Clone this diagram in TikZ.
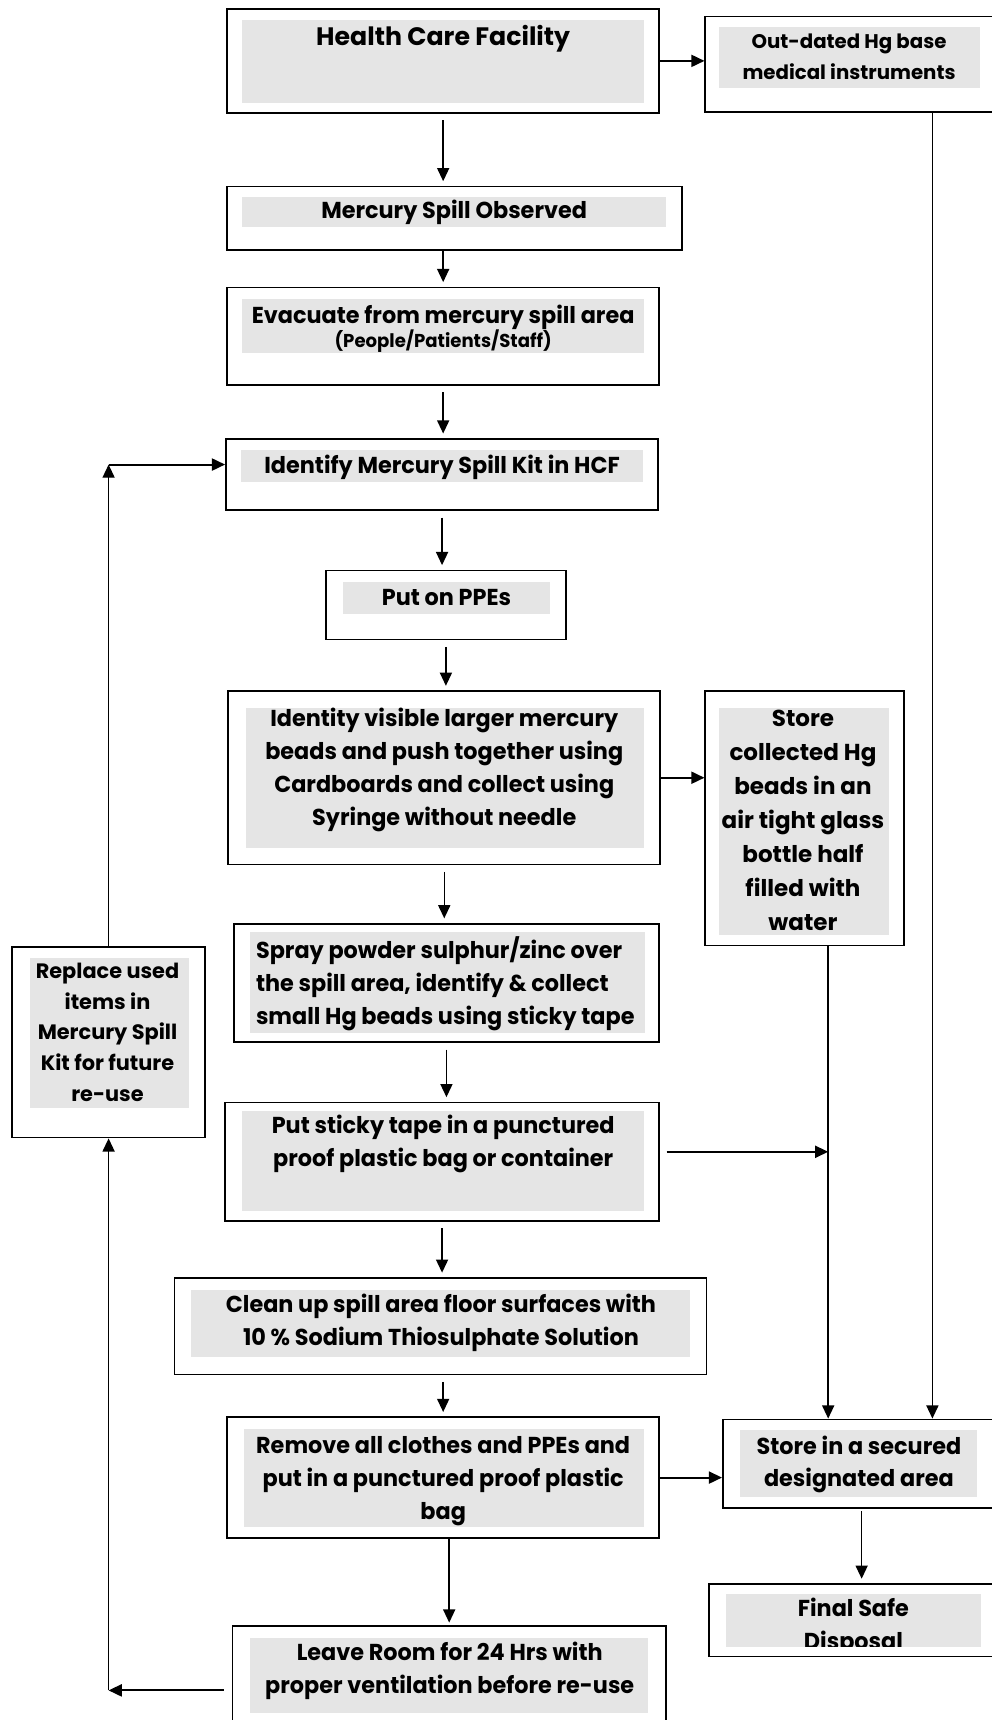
\documentclass[tikz,border=0pt]{standalone}
\usepackage{fontspec}
\setmainfont{Poppins}
\newfontfamily\condfont{Poppins}[FakeStretch=0.97]
\usetikzlibrary{arrows.meta, fit}

\begin{document}
\begin{tikzpicture}[
    x=0.5pt, y=-0.5pt,
    box/.style={draw, line width=0.8pt, inner sep=0pt},
    graybg/.style={fill=gray!20},
    txt/.style={font=\condfont\bfseries\fontsize{10.5}{15}\selectfont, align=center, inner sep=0pt},
    sidetxt/.style={font=\bfseries\fontsize{9.5}{14}\selectfont, align=center, inner sep=0pt},
    flow/.style={-{Triangle[length=6pt,width=5.5pt]}, line width=0.65pt, shorten <=3pt, shorten >=2pt},
    arrow/.style={-{Triangle[length=6pt,width=5.5pt]}, line width=0.9pt}
]
\useasboundingbox (0,0) rectangle (904,1568);

% Health Care Facility
\fill[graybg] (221,18) rectangle (587,94);
\node[box, fit={(207,8) (601,103)}] (hcf) {};
\node[txt, font=\bfseries\fontsize{11.5}{15}\selectfont] (hcftxt) at (404,35) {Health Care Facility};

% Out-dated instruments
\fill[graybg] (655,25) rectangle (893,80);
\node[box, fit={(643,15) (912,102)}] (outdated) {};
\node[sidetxt, font=\bfseries\fontsize{9}{14}\selectfont] (outdatedtxt) at (774,52) {Out-dated Hg base\\medical instruments};

% Spill observed
\fill[graybg] (221,180) rectangle (607,207);
\node[box, fit={(207,170) (622,228)}] (mso) {};
\node[txt] (msotxt) at (414,194) {Mercury Spill Observed};

% Evacuate
\fill[graybg] (221,273) rectangle (587,322);
\node[box, fit={(207,262) (601,351)}] (evac) {};
\node[txt] (evactxt) at (404,300) {Evacuate from mercury spill area\\[-4pt]{\fontsize{8.5}{9}\selectfont (People/Patients/Staff)}};

% Spill kit
\fill[graybg] (220,410) rectangle (586,439);
\node[box, fit={(206,400) (600,465)}] (kit) {};
\node[txt] (kittxt) at (403,426) {Identify Mercury Spill Kit in HCF};

% PPEs
\fill[graybg] (313,531) rectangle (501,560);
\node[box, fit={(297,520) (516,583)}] (ppe) {};
\node[txt] (ppetxt) at (407,545) {Put on PPEs};

% Larger beads
\fill[graybg] (224,645) rectangle (587,773);
\node[box, fit={(208,630) (602,788)}] (beads) {};
\node[txt] (beadstxt) at (405,702) {Identity visible larger mercury\\beads and push together using\\Cardboards and collect using\\Syringe without needle};

% Store beads
\fill[graybg] (655,645) rectangle (810,852);
\node[box, fit={(643,630) (824,862)}] (store) {};
\node[sidetxt, font=\bfseries\fontsize{10.5}{15.5}\selectfont] (storetxt) at (732,748) {Store\\collected Hg\\beads in an\\air tight glass\\bottle half\\filled with\\water};

% Spray powder
\fill[graybg] (228,850) rectangle (588,942);
\node[box, fit={(213,842) (601,950)}] (spray) {};
\node[txt, anchor=west, align=left] (spraytxt) at (233,897) {Spray powder sulphur/zinc over\\the spill area, identify \& collect\\small Hg beads using sticky tape};

% Sticky tape
\fill[graybg] (221,1013) rectangle (587,1104);
\node[box, fit={(205,1005) (601,1113)}] (sticky) {};
\node[txt] (stickytxt) at (404,1043) {Put sticky tape in a punctured\\proof plastic bag or container};

% Clean up
\fill[graybg] (174,1176) rectangle (629,1237);
\node[box, fit={(159,1165) (644,1253)}] (clean) {};
\node[txt] (cleantxt) at (402,1206) {Clean up spill area floor surfaces with\\10 \% Sodium Thiosulphate Solution};

% Remove clothes
\fill[graybg] (222,1303) rectangle (587,1392);
\node[box, fit={(207,1292) (601,1402)}] (remove) {};
\node[txt] (removetxt) at (404,1350) {Remove all clothes and PPEs and\\put in a punctured proof plastic\\bag};

% Leave room
\fill[graybg] (228,1493) rectangle (591,1562);
\node[box, fit={(212,1482) (607,1600)}] (leave) {};
\node[txt] (leavetxt) at (410,1523) {Leave Room for 24 Hrs with\\proper ventilation before re-use};

% Secured area
\fill[graybg] (675,1304) rectangle (891,1365);
\node[box, fit={(659,1294) (912,1375)}] (secured) {};
\node[txt] (securedtxt) at (783,1335) {Store in a secured\\designated area};

% Final disposal
\fill[graybg] (662,1453) rectangle (894,1501);
\node[box, fit={(646,1444) (912,1510)}] (final) {};
\begin{scope}
\clip (662,1453) rectangle (894,1501);
\node[txt] (finaltxt) at (778,1483) {Final Safe\\Disposal};
\end{scope}

% Replace kit items
\fill[graybg] (27,873) rectangle (172,1010);
\node[box, fit={(11,863) (187,1037)}] (replace) {};
\node[sidetxt] (replacetxt) at (98,941) {Replace used\\items in\\Mercury Spill\\Kit for future\\re-use};

% Columns of the collecting lines
\coordinate (colA) at (755,0);
\coordinate (colB) at (850,0);
\coordinate (kitin) at ([yshift=4.5pt]kit.west);
\coordinate (corner) at (replace.north |- kitin);

% Main flow
\draw[flow] (hcf.south) -- (hcf.south |- mso.north);
\draw[flow, shorten <=0pt] (evac.north |- mso.south) -- (evac.north);
\draw[flow] (evac.south) -- (evac.south |- kit.north);
\draw[flow] (kit.south) -- (kit.south |- ppe.north);
\draw[flow] (ppe.south) -- (ppe.south |- beads.north);
\draw[flow] (beads.south) -- (beads.south |- spray.north);
\draw[flow] (spray.south) -- (spray.south |- sticky.north);
\draw[flow] (sticky.south) -- (sticky.south |- clean.north);
\draw[flow] (remove.north |- clean.south) -- (remove.north);
\draw[flow, shorten <=0pt, shorten >=1pt] (leave.north |- remove.south) -- (leave.north);

% Side branches
\draw[arrow] (hcf.east) -- (hcf.east -| outdated.west);
\draw[arrow] (beads.east) -- (beads.east -| store.west);
\draw[arrow, shorten <=3pt] ([yshift=4.5pt]sticky.east) -- ([yshift=4.5pt]sticky.east -| colA);
\draw[arrow] (remove.east) -- (remove.east -| secured.west);

% Collecting lines
\draw[flow, shorten <=0pt, shorten >=0pt] (store.south -| colA) -- (secured.north -| colA);
\draw[flow, shorten <=0pt, shorten >=0pt] (outdated.south -| colB) -- (secured.north -| colB);
\draw[flow, shorten <=1pt] (secured.south) -- (secured.south |- final.north);

% Loop back to the spill kit
\draw[arrow, shorten <=3.5pt] (leave.west) -- (leave.west -| replace.south);
\draw[flow, shorten <=0pt, shorten >=0pt] (leave.west -| replace.south) -- (replace.south);
\draw[flow, shorten <=0pt, shorten >=0pt] (replace.north) -- (corner);
\draw[arrow] (corner) -- (kitin);

\end{tikzpicture}
\end{document}
